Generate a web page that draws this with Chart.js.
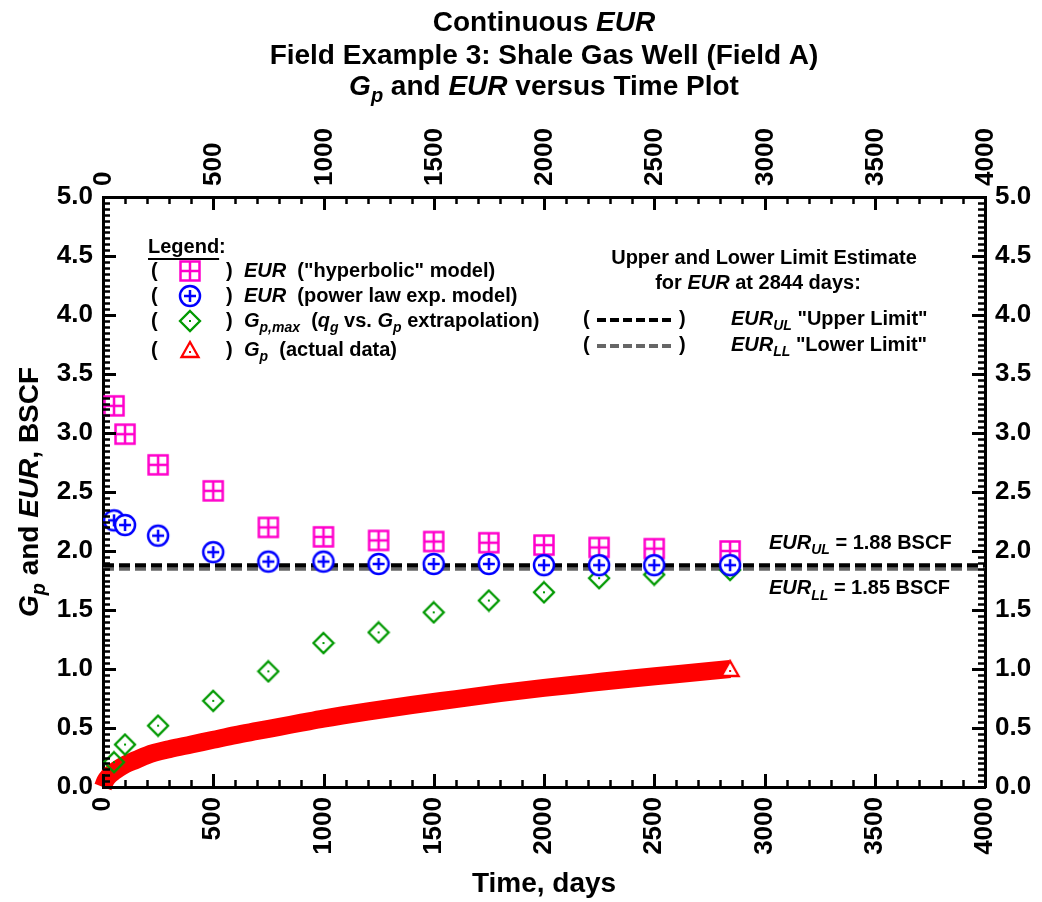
<!DOCTYPE html>
<html>
<head>
<meta charset="utf-8">
<script src="https://cdn.jsdelivr.net/npm/chart.js@4.4.0/dist/chart.umd.min.js"></script>
<style>
  html, body { margin: 0; padding: 0; background: #fff; }
  #wrap { width: 1042px; height: 902px; }
</style>
</head>
<body>
<div id="wrap"><canvas id="chart" width="1042" height="902"></canvas></div>
<script>
const FONT = '"Liberation Sans", Arial, sans-serif'

// EUR estimates and Gp,max
const markDays = [50, 100, 250, 500, 750, 1000, 1250, 1500, 1750, 2000, 2250, 2500, 2844]
const eurHyperbolic = [3.23, 2.99, 2.73, 2.51, 2.20, 2.12, 2.09, 2.08, 2.07, 2.05, 2.03, 2.02, 2.00]
const eurPowerLaw = [2.26, 2.22, 2.13, 1.99, 1.91, 1.91, 1.89, 1.89, 1.89, 1.88, 1.88, 1.88, 1.88]
const gpMax = [0.21, 0.36, 0.52, 0.73, 0.98, 1.22, 1.31, 1.48, 1.58, 1.65, 1.77, 1.80, 1.84]

// actual cumulative production (thick red band)
const gpDays = [0, 10, 25, 50, 100, 150, 200, 300, 400, 500, 600, 700, 800, 900, 1000, 1200, 1400, 1600, 1800, 2000, 2200, 2400, 2600, 2844]
const gpActual = [0, 0.05, 0.09, 0.13, 0.19, 0.23, 0.27, 0.32, 0.36, 0.40, 0.44, 0.475, 0.51, 0.545, 0.58, 0.64, 0.695, 0.745, 0.795, 0.84, 0.88, 0.92, 0.955, 1.00]

// upper / lower limit lines
const eurUL = 1.88
const eurLL = 1.85
const limitSpan = [0, 4000]

// axes
const xTicks = [0, 500, 1000, 1500, 2000, 2500, 3000, 3500, 4000]
const yTicks = ['0.0', '0.5', '1.0', '1.5', '2.0', '2.5', '3.0', '3.5', '4.0', '4.5', '5.0']
const xRange = [0, 4000]
const yRange = [0, 5]

const MAGENTA = '#FF00CC'
const BLUE = '#0000FF'
const GREEN = '#009900'
const RED = '#FF0000'

// ---- marker images ----
function makeMarker(size, draw) {
    const c = document.createElement('canvas')
    c.width = size
    c.height = size
    draw(c.getContext('2d'), size / 2)
    return c
}

const squareMark = makeMarker(24, (g, m) => {
    g.strokeStyle = MAGENTA
    g.lineWidth = 2.5
    g.fillStyle = '#fff'
    g.fillRect(m - 9.5, m - 9.5, 19, 19)
    g.strokeRect(m - 9.5, m - 9.5, 19, 19)
    g.beginPath()
    g.moveTo(m, m - 9.5); g.lineTo(m, m + 9.5)
    g.moveTo(m - 9.5, m); g.lineTo(m + 9.5, m)
    g.stroke()
})

const circleMark = makeMarker(26, (g, m) => {
    g.strokeStyle = BLUE
    g.lineWidth = 2.5
    g.fillStyle = '#fff'
    g.beginPath()
    g.arc(m, m, 10, 0, Math.PI * 2)
    g.fill()
    g.stroke()
    g.beginPath()
    g.moveTo(m, m - 6); g.lineTo(m, m + 6)
    g.moveTo(m - 6, m); g.lineTo(m + 6, m)
    g.stroke()
})

const diamondMark = makeMarker(24, (g, m) => {
    g.strokeStyle = GREEN
    g.lineWidth = 2.3
    g.beginPath()
    g.moveTo(m, m - 10); g.lineTo(m + 10, m); g.lineTo(m, m + 10); g.lineTo(m - 10, m)
    g.closePath()
    g.stroke()
    g.fillStyle = GREEN
    g.fillRect(m - 1, m - 1, 2, 2)
})

const triangleMark = makeMarker(24, (g, m) => {
    g.strokeStyle = RED
    g.lineWidth = 2.3
    g.fillStyle = '#fff'
    g.beginPath()
    g.moveTo(m, m - 8); g.lineTo(m + 8.5, m + 7); g.lineTo(m - 8.5, m + 7)
    g.closePath()
    g.fill()
    g.stroke()
    g.fillStyle = RED
    g.fillRect(m - 1, m + 1, 2, 2)
})

// ---- rich text helper: parts = [[text, kind]], kind: '' bold, 'i' bold italic, 's' italic subscript ----
function fontFor(kind, size) {
    if (kind === 's') return `italic bold ${Math.round(size * 0.72)}px ${FONT}`
    if (kind === 'i') return `italic bold ${size}px ${FONT}`
    return `bold ${size}px ${FONT}`
}

function richWidth(ctx, parts, size) {
    let w = 0
    parts.forEach(([t, k]) => {
        ctx.font = fontFor(k, size)
        w += ctx.measureText(t).width
    })
    return w
}

function drawRich(ctx, parts, x, y, size, align = 'left') {
    const w = richWidth(ctx, parts, size)
    let cx = align === 'center' ? x - w / 2 : (align === 'right' ? x - w : x)
    ctx.textBaseline = 'middle'
    ctx.textAlign = 'left'
    ctx.fillStyle = '#000'
    parts.forEach(([t, k]) => {
        ctx.font = fontFor(k, size)
        ctx.fillText(t, cx, k === 's' ? y + size * 0.35 : y)
        cx += ctx.measureText(t).width
    })
    return w
}

function pts(xs, ys) {
    return xs.map((x, i) => ({ x: x, y: ys[i] }))
}

// ---- inward ticks, top labels, titles and annotations ----
const decorPlugin = {
    id: 'decor',
    afterDraw(chart) {
        const ctx = chart.ctx
        const a = chart.chartArea
        const sx = chart.scales.x
        const sy = chart.scales.y
        ctx.save()
        ctx.strokeStyle = '#000'

        // x ticks, every 100 days (major every 500)
        for (let v = xRange[0]; v <= xRange[1]; v += 100) {
            const px = Math.round(sx.getPixelForValue(v)) + 0.5
            const major = v % 500 === 0
            const len = major ? 13 : 7
            ctx.lineWidth = major ? 3 : 2.5
            ctx.beginPath()
            ctx.moveTo(px, a.bottom); ctx.lineTo(px, a.bottom - len)
            ctx.moveTo(px, a.top); ctx.lineTo(px, a.top + len)
            ctx.stroke()
        }
        // y ticks, every 0.05 (major every 0.5)
        for (let i = 0; i <= 100; i++) {
            const v = i * 0.05
            const py = Math.round(sy.getPixelForValue(v)) + 0.5
            const major = i % 10 === 0
            const len = major ? 13 : 7
            ctx.lineWidth = major ? 3 : 2.5
            ctx.beginPath()
            ctx.moveTo(a.left, py); ctx.lineTo(a.left + len, py)
            ctx.moveTo(a.right, py); ctx.lineTo(a.right - len, py)
            ctx.stroke()
        }

        // top axis labels, rotated, reading upwards
        ctx.font = `bold 26px ${FONT}`
        ctx.fillStyle = '#000'
        xTicks.forEach(v => {
            ctx.save()
            ctx.translate(sx.getPixelForValue(v), a.top - 11)
            ctx.rotate(-Math.PI / 2)
            ctx.textAlign = 'left'
            ctx.textBaseline = 'middle'
            ctx.fillText(String(v), 0, 1)
            ctx.restore()
        })

        // title
        const cx = (a.left + a.right) / 2
        drawRich(ctx, [['Continuous ', ''], ['EUR', 'i']], cx, 23, 28, 'center')
        drawRich(ctx, [['Field Example 3: Shale Gas Well (Field A)', '']], cx, 56, 28, 'center')
        drawRich(ctx, [['G', 'i'], ['p', 's'], [' and ', ''], ['EUR', 'i'], [' versus Time Plot', '']], cx, 87, 28, 'center')

        // axis titles
        drawRich(ctx, [['Time, days', '']], cx, 884, 28, 'center')
        ctx.save()
        ctx.translate(30, (a.top + a.bottom) / 2)
        ctx.rotate(-Math.PI / 2)
        drawRich(ctx, [['G', 'i'], ['p', 's'], [' and ', ''], ['EUR', 'i'], [', BSCF', '']], 0, 0, 28, 'center')
        ctx.restore()

        // left legend
        const lw = drawRich(ctx, [['Legend', '']], 148, 247, 20)
        drawRich(ctx, [[':', '']], 148 + lw, 247, 20)
        ctx.lineWidth = 2
        ctx.beginPath()
        ctx.moveTo(148, 259); ctx.lineTo(148 + lw, 259)
        ctx.stroke()
        const rows = [
            [271, squareMark, [['EUR', 'i'], ['  ("hyperbolic" model)', '']]],
            [296, circleMark, [['EUR', 'i'], ['  (power law exp. model)', '']]],
            [321, diamondMark, [['G', 'i'], ['p,max', 's'], ['  (', ''], ['q', 'i'], ['g', 's'], [' vs. ', ''], ['G', 'i'], ['p', 's'], [' extrapolation)', '']]],
            [350, triangleMark, [['G', 'i'], ['p', 's'], ['  (actual data)', '']]]
        ]
        rows.forEach(([y, mk, parts]) => {
            drawRich(ctx, [['(', '']], 151, y, 20)
            ctx.drawImage(mk, 190 - mk.width / 2, y - mk.height / 2)
            drawRich(ctx, [[')', '']], 226, y, 20)
            drawRich(ctx, parts, 244, y, 20)
        })

        // right legend block
        drawRich(ctx, [['Upper and Lower Limit Estimate', '']], 764, 258, 20, 'center')
        drawRich(ctx, [['for ', ''], ['EUR', 'i'], [' at 2844 days:', '']], 758, 283, 20, 'center')
        const limRows = [
            [319, '#000', [['EUR', 'i'], ['UL', 's'], [' "Upper Limit"', '']]],
            [345, '#666', [['EUR', 'i'], ['LL', 's'], [' "Lower Limit"', '']]]
        ]
        limRows.forEach(([y, col, parts]) => {
            drawRich(ctx, [['(', '']], 583, y, 20)
            ctx.strokeStyle = col
            ctx.lineWidth = 4
            ctx.setLineDash([9, 4])
            ctx.beginPath()
            ctx.moveTo(597, y + 1); ctx.lineTo(674, y + 1)
            ctx.stroke()
            ctx.setLineDash([])
            drawRich(ctx, [[')', '']], 679, y, 20)
            drawRich(ctx, parts, 731, y, 20)
        })

        // limit value labels
        drawRich(ctx, [['EUR', 'i'], ['UL', 's'], [' = ' + eurUL.toFixed(2) + ' BSCF', '']], 769, sy.getPixelForValue(eurUL) - 22, 20)
        drawRich(ctx, [['EUR', 'i'], ['LL', 's'], [' = ' + eurLL.toFixed(2) + ' BSCF', '']], 769, sy.getPixelForValue(eurLL) + 20, 20)

        ctx.restore()
    }
}

const tickFont = { family: FONT, size: 26, weight: 'bold' }

function xAxis(pos, h, showLabels) {
    return {
        type: 'linear', position: pos, min: xRange[0], max: xRange[1], display: true,
        grid: { display: false, drawTicks: false },
        border: { display: true, color: '#000', width: 3 },
        ticks: {
            display: showLabels, stepSize: 500, font: tickFont, color: '#000',
            minRotation: 90, maxRotation: 90, padding: 10,
            callback: v => String(v)
        },
        afterFit: s => { s.height = h }
    }
}

function yAxis(pos, w) {
    return {
        type: 'linear', position: pos, min: yRange[0], max: yRange[1], display: true,
        grid: { display: false, drawTicks: false },
        border: { display: true, color: '#000', width: 3 },
        ticks: { stepSize: 0.5, font: tickFont, color: '#000', padding: 10, callback: (v, i) => yTicks[i] },
        afterFit: s => { s.width = w }
    }
}

new Chart(document.getElementById('chart'), {
    type: 'scatter',
    data: {
        datasets: [
            {
                label: 'EUR hyperbolic',
                data: pts(markDays, eurHyperbolic),
                pointStyle: squareMark,
                order: 1
            },
            {
                label: 'EUR power law',
                data: pts(markDays, eurPowerLaw),
                pointStyle: circleMark,
                order: 0
            },
            {
                label: 'Gp,max',
                data: pts(markDays, gpMax),
                pointStyle: diamondMark,
                order: 2
            },
            {
                label: 'EUR UL',
                data: pts(limitSpan, [eurUL, eurUL]),
                showLine: true,
                borderColor: '#000',
                borderWidth: 4,
                borderDash: [11, 5],
                pointRadius: 0,
                order: 3
            },
            {
                label: 'EUR LL',
                data: pts(limitSpan, [eurLL, eurLL]),
                showLine: true,
                borderColor: '#666',
                borderWidth: 4,
                borderDash: [11, 5],
                pointRadius: 0,
                order: 4
            },
            {
                label: 'Gp',
                data: pts(gpDays, gpActual),
                showLine: true,
                borderColor: RED,
                borderWidth: 18,
                borderCapStyle: 'butt',
                cubicInterpolationMode: 'monotone',
                pointRadius: 0,
                clip: false,
                order: 6
            },
            {
                label: 'Gp end',
                data: pts(gpDays.slice(-1), gpActual.slice(-1)),
                pointStyle: triangleMark,
                order: 5
            }
        ]
    },
    options: {
        responsive: false,
        animation: false,
        devicePixelRatio: 1,
        layout: { padding: 0 },
        plugins: { legend: { display: false }, tooltip: { enabled: false } },
        scales: {
            x: xAxis('bottom', 115, true),
            x2: xAxis('top', 197, false),
            y: yAxis('left', 103),
            y2: yAxis('right', 57)
        }
    },
    plugins: [decorPlugin]
})
</script>
</body>
</html>
